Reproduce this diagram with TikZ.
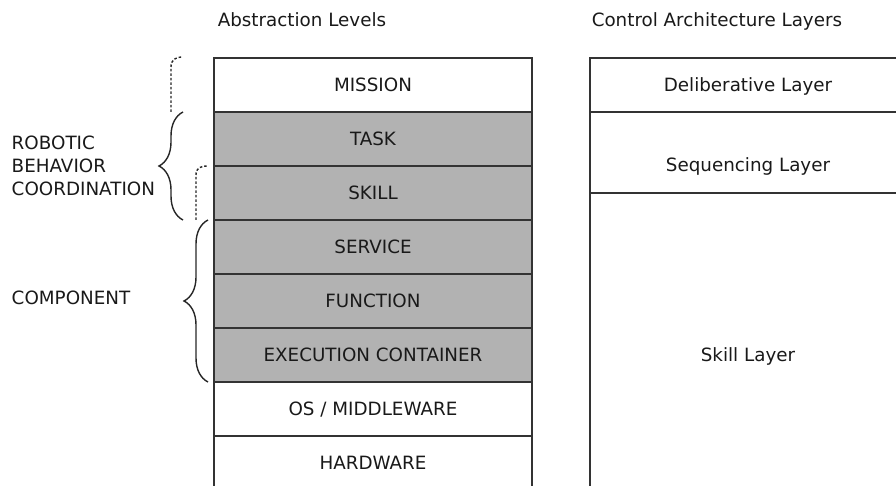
\documentclass[tikz,border=0pt]{standalone}
\usepackage{fontspec}
\setmainfont{DejaVu Sans}
\usetikzlibrary{decorations.pathreplacing}

\begin{document}
\begin{tikzpicture}[x=1pt,y=-1pt,line width=1.5pt,
    levelbrace/.style={black!85,line width=1.4pt,decorate,decoration={brace,amplitude=24pt}},
    dotext/.style={black!85,line width=1.4pt,dash pattern=on 2.5pt off 2pt}]
    \clip (0,0) rectangle (896,486);
    \begin{scope}[every node/.style={font=\fontsize{18.3}{23}\selectfont,text=black!90,
        text height=13pt,text depth=0pt,inner sep=0pt}]

\fill [black!30] (214,112) rectangle (532,382);

\draw [black!80] (214,58)  rectangle (532,112);
\draw [black!80] (214,112) rectangle (532,166);
\draw [black!80] (214,166) rectangle (532,220);
\draw [black!80] (214,220) rectangle (532,274);
\draw [black!80] (214,274) rectangle (532,328);
\draw [black!80] (214,328) rectangle (532,382);
\draw [black!80] (214,382) rectangle (532,436);
\draw [black!80] (214,436) rectangle (532,500);

\draw [black!80] (590,58)  rectangle (910,112);
\draw [black!80] (590,112) rectangle (910,193);
\draw [black!80] (590,193) rectangle (910,520);

\coordinate (rbc_bot) at (183,220);
\coordinate (rbc_top) at (183,112);
\coordinate (cmp_bot) at (208,382);
\coordinate (cmp_top) at (208,220);

\draw [levelbrace] (rbc_bot) -- (rbc_top);
\draw [levelbrace] (cmp_bot) -- (cmp_top);
\draw [dotext] (171,112) -- (171,67) .. controls (171,60) and (175,57) .. (183,57);
\draw [dotext] (196,220) -- (196,175) .. controls (196,168) and (200,166) .. (208,166);

\node (head_abs)  [anchor=base west] at (217,27) {Abstraction Levels};
\node (head_ctrl) [anchor=base west] at (591,27) {Control Architecture Layers};

\node (grp_rob) [anchor=base west] at (11,150) {ROBOTIC};
\node (grp_beh) [anchor=base west] at (11,173) {BEHAVIOR};
\node (grp_coo) [anchor=base west] at (11,196) {COORDINATION};
\node (grp_cmp) [anchor=base west] at (11,304) {COMPONENT};

\node (lvl_mission)  at (373,85)  {MISSION};
\node (lvl_task)     at (373,139) {TASK};
\node (lvl_skill)    at (373,193) {SKILL};
\node (lvl_service)  at (373,247) {SERVICE};
\node (lvl_function) at (373,301) {FUNCTION};
\node (lvl_exec)     at (373,355) {EXECUTION CONTAINER};
\node (lvl_os)       at (373,409) {OS / MIDDLEWARE};
\node (lvl_hw)       at (373,463) {HARDWARE};

\node (lay_delib) at (748,85)  {Deliberative Layer};
\node (lay_seq)   at (748,165) {Sequencing Layer};
\node (lay_skill) at (748,355) {Skill Layer};

    \end{scope}
    \end{tikzpicture}
\end{document}
